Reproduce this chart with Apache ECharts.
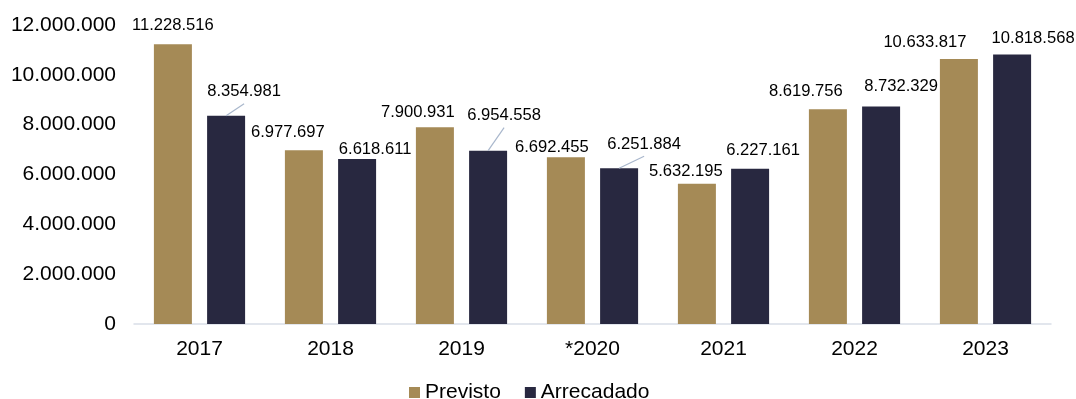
<!DOCTYPE html>
<html>
<head>
<meta charset="utf-8">
<script src="https://cdn.jsdelivr.net/npm/echarts@6/dist/echarts.min.js"></script>
<style>
html,body{margin:0;padding:0;background:#fff;}
#c{width:1076px;height:399px;}
</style>
</head>
<body>
<div id="c"></div>
<script>
const categories = ['2017', '2018', '2019', '*2020', '2021', '2022', '2023'];
const previsto = [11228516, 6977697, 7900931, 6692455, 5632195, 8619756, 10633817];
const arrecadado = [8354981, 6618611, 6954558, 6251884, 6227161, 8732329, 10818568];
const yTicks = { min: 0, max: 12000000, interval: 2000000 };
// label offsets (dx, dy) from the bar's top centre
const previstoLabelOffset = [[0,-19],[-16,-18],[-17,-15],[-14,-10],[-11,-12],[-22,-18],[-34,-17]];
const arrecadadoLabelOffset = [[18,-24],[18,-10],[16,-35],[25,-24],[13,-18],[20,-20],[21,-16]];
const arrecadadoLeader = [true,false,true,true,false,false,false];

const BAR_W = 38, BAR_GAP = 0.4;
const fmt = v => String(Math.round(v)).replace(/\B(?=(\d{3})+(?!\d))/g, '.');
const FONT = '"Liberation Sans", Arial, sans-serif';

const chart = echarts.init(document.getElementById('c'), null, {renderer: 'canvas'});

function layoutFor(offsets) {
  return function (p) {
    const r = p.rect;
    const o = offsets[p.dataIndex];
    return { x: r.x + r.width / 2 + o[0], y: r.y + o[1], align: 'center', verticalAlign: 'middle' };
  };
}

chart.setOption({
  animation: false,
  textStyle: { fontFamily: FONT },
  grid: { left: 134, right: 25, top: 25, bottom: 75, containLabel: false },
  legend: {
    data: ['Previsto', 'Arrecadado'],
    left: 404, top: 377,
    itemWidth: 11, itemHeight: 11, itemGap: 24,
    icon: 'rect',
    textStyle: { fontSize: 21, color: '#000', fontFamily: FONT }
  },
  xAxis: {
    type: 'category',
    data: categories,
    axisLine: { lineStyle: { color: '#D9DEE8', width: 1.5 } },
    axisTick: { show: false },
    axisLabel: { fontSize: 21, color: '#000', margin: 15, fontFamily: FONT }
  },
  yAxis: {
    type: 'value',
    min: yTicks.min, max: yTicks.max, interval: yTicks.interval,
    splitLine: { show: false },
    axisLine: { show: false },
    axisTick: { show: false },
    axisLabel: { fontSize: 21, color: '#000', margin: 18, fontFamily: FONT, formatter: fmt }
  },
  series: [
    {
      name: 'Previsto', type: 'bar', data: previsto,
      barWidth: BAR_W, barGap: (BAR_GAP * 100) + '%',
      itemStyle: { color: '#A58A56' },
      label: { show: true, position: 'top', fontSize: 16.6, color: '#000', fontFamily: FONT,
               formatter: p => fmt(p.value) },
      labelLayout: layoutFor(previstoLabelOffset)
    },
    {
      name: 'Arrecadado', type: 'bar', data: arrecadado,
      barWidth: BAR_W, barGap: (BAR_GAP * 100) + '%',
      itemStyle: { color: '#282840' },
      label: { show: true, position: 'top', fontSize: 16.6, color: '#000', fontFamily: FONT,
               formatter: p => fmt(p.value) },
      labelLayout: layoutFor(arrecadadoLabelOffset)
    },
    {
      name: 'leader', type: 'custom', z: 5, silent: true,
      data: arrecadado.map((v, i) => [i, v]),
      encode: { x: 0, y: 1 },
      renderItem: function (params, api) {
        const i = api.value(0);
        if (!arrecadadoLeader[i]) return null;
        const p = api.coord([i, api.value(1)]);
        const cx = p[0] + (BAR_W + BAR_W * BAR_GAP) / 2;
        const o = arrecadadoLabelOffset[i];
        return {
          type: 'line',
          shape: { x1: cx, y1: p[1], x2: cx + o[0], y2: p[1] + o[1] + 12 },
          style: { stroke: '#A9B7CC', lineWidth: 1.2 }
        };
      }
    }
  ]
});
</script>
</body>
</html>
